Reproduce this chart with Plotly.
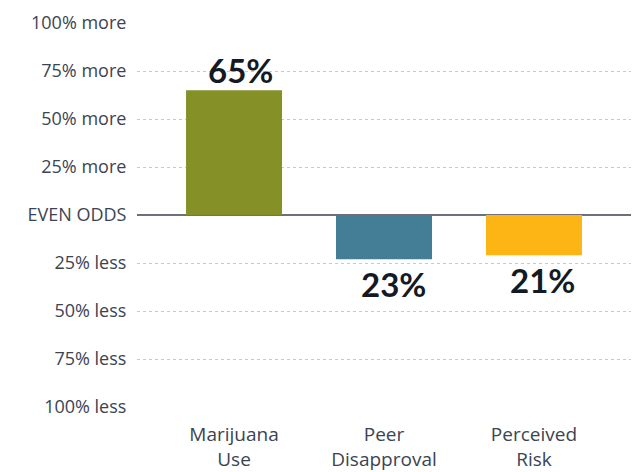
import plotly.graph_objects as go

categories = ["Marijuana<br>Use", "Peer<br>Disapproval", "Perceived<br>Risk"]
values = [65, -23, -21]
colors = ["#859126", "#447d96", "#fdb515"]

tick_vals = [100, 75, 50, 25, 0, -25, -50, -75, -100]
tick_text = ["100% more", "75% more", "50% more", "25% more", "EVEN ODDS",
             "25% less", "50% less", "75% less", "100% less"]

FONT = "'Open Sans', Lato, sans-serif"
SLATE = "#3b4452"

fig = go.Figure(
    go.Bar(
        x=list(range(len(categories))),
        y=values,
        marker=dict(color=colors, line=dict(width=0)),
        width=0.64,
        hoverinfo="skip",
    )
)

# value labels above positive bars, below negative ones
for i, v in enumerate(values):
    fig.add_annotation(
        x=i, y=v, xref="x", yref="y",
        text=f"<b>{abs(v)}%</b>",
        showarrow=False,
        xshift=6 if v > 0 else 9,
        yshift=20 if v > 0 else -25,
        font=dict(family="Lato, sans-serif", size=33, color="#141a24"),
    )

fig.update_layout(
    width=637, height=472,
    margin=dict(l=137, r=6, t=23, b=65),
    paper_bgcolor="white",
    plot_bgcolor="white",
    showlegend=False,
    font=dict(family=FONT, color=SLATE),
    xaxis=dict(
        range=[-0.647, 2.647],
        tickvals=list(range(len(categories))),
        ticktext=categories,
        tickfont=dict(size=19, color=SLATE),
        showgrid=False, zeroline=False, showline=False,
        ticks="outside", ticklen=10, tickcolor="rgba(0,0,0,0)",
        automargin=False,
        fixedrange=True,
    ),
    yaxis=dict(
        range=[-100, 100],
        tickvals=tick_vals,
        ticktext=tick_text,
        tickfont=dict(size=18, color=SLATE),
        showgrid=True, gridcolor="#c8c8c8", griddash="dot", gridwidth=1,
        zeroline=True, zerolinecolor="#6b7079", zerolinewidth=1.5,
        showline=False,
        ticks="outside", ticklen=6, tickcolor="rgba(0,0,0,0)",
        automargin=False,
        fixedrange=True,
    ),
)

fig.write_html("out.html")
